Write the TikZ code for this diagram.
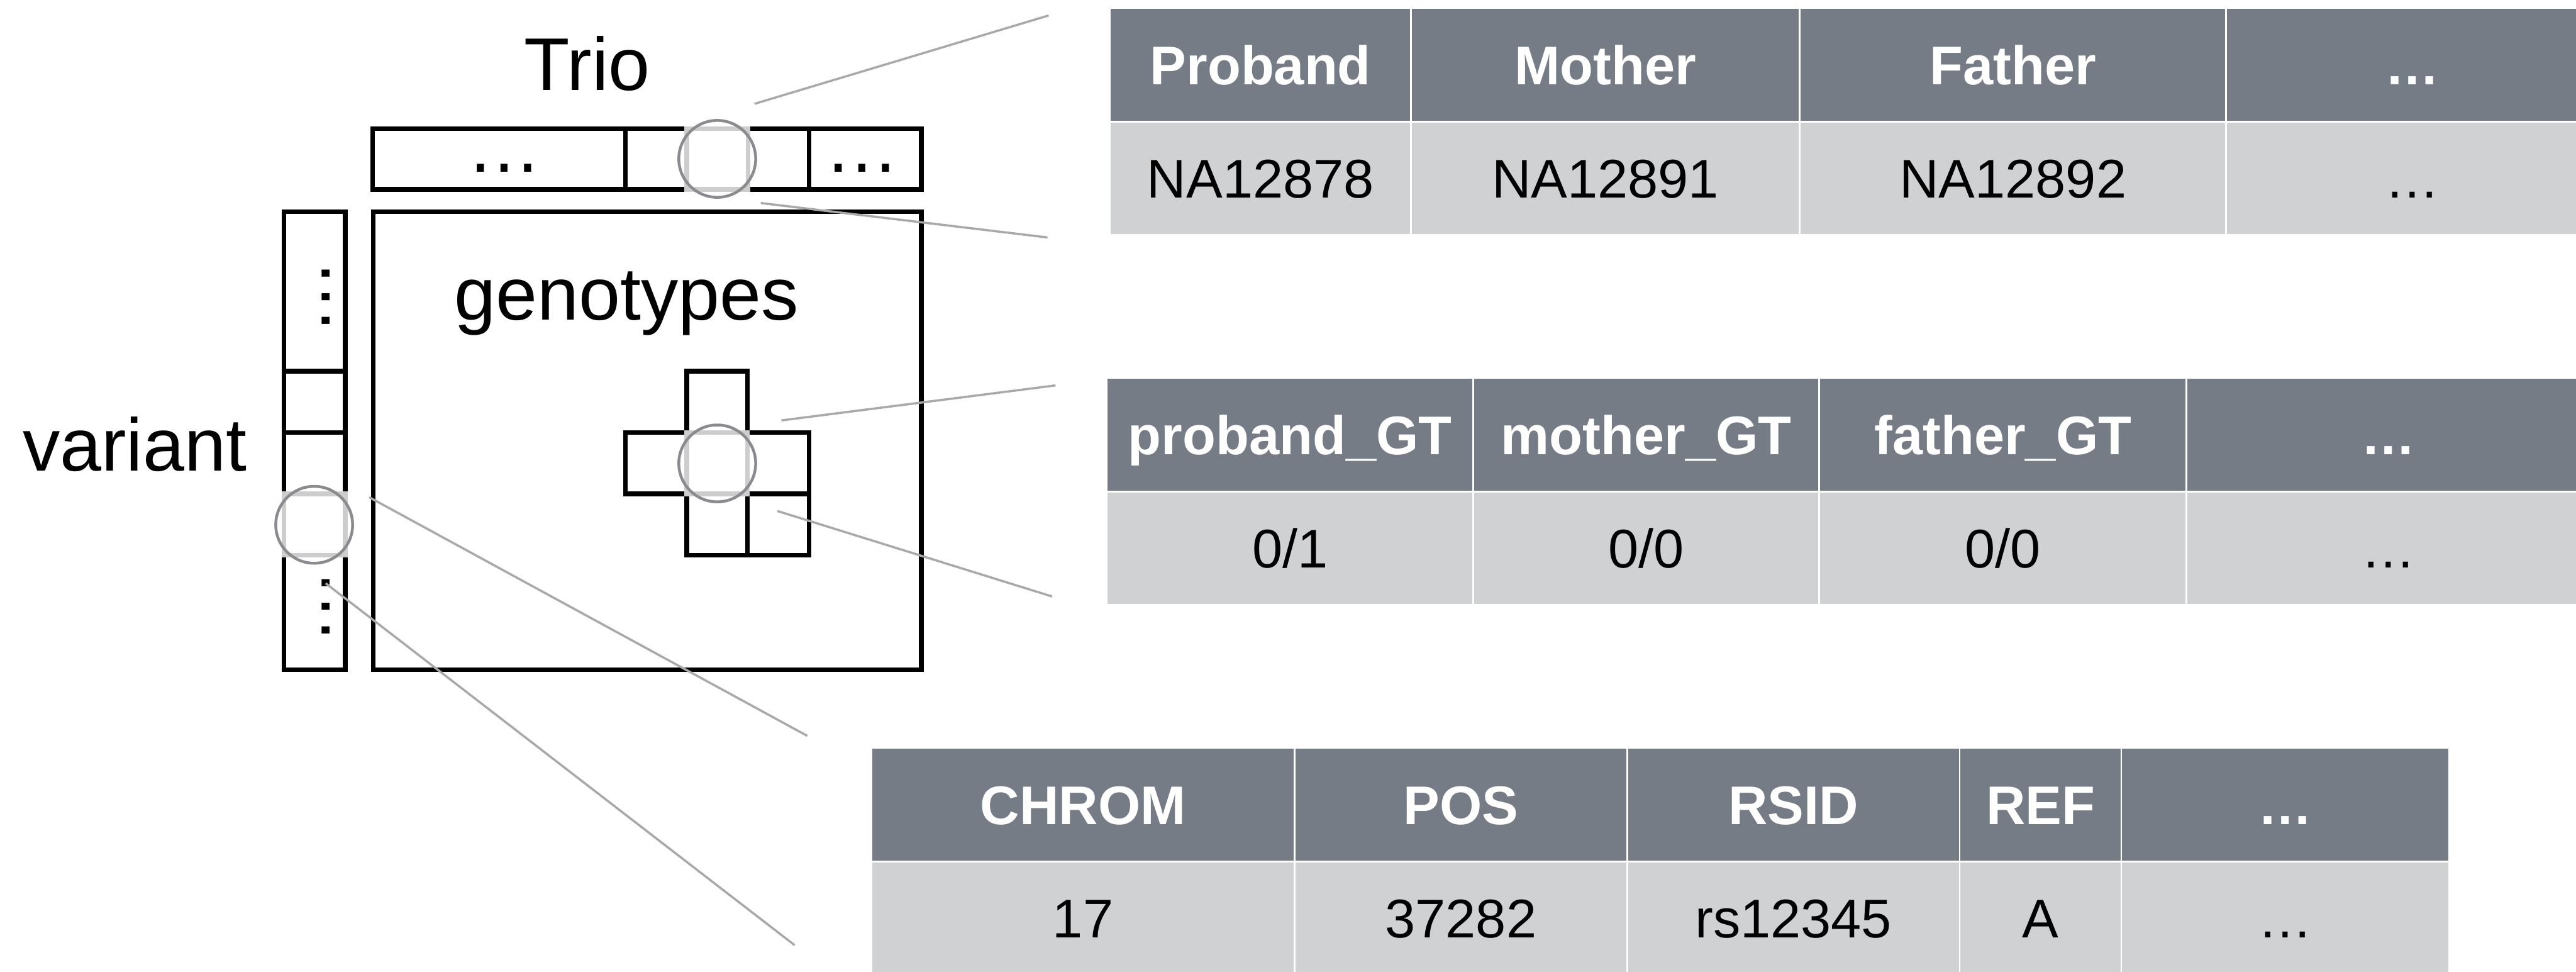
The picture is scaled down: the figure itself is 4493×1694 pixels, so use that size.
\documentclass[tikz,border=0pt]{standalone}
\usepackage{fontspec}
\setmainfont{Liberation Sans}
\usetikzlibrary{positioning}
\definecolor{hdgrey}{RGB}{118,124,134}
\definecolor{rwgrey}{RGB}{208,209,211}
\definecolor{ringgrey}{RGB}{137,139,143}
\definecolor{litegrey}{RGB}{205,205,205}
\definecolor{leadgrey}{RGB}{168,170,169}
\tikzset{
  blk/.style={draw=black,line width=2.3pt},
  hilite/.style={draw=litegrey,line width=2.3pt},
  ring/.style={circle,draw=ringgrey,line width=1.4pt,minimum size=1.34cm,inner sep=0pt},
  lead/.style={draw=leadgrey,line width=1.1pt},
  hd/.style={fill=hdgrey,draw=white,line width=0.9pt,text=white,font=\fontsize{27}{32}\selectfont\bfseries,minimum height=1.98cm,inner sep=0pt,text height=19.4pt,text depth=0pt},
  rw/.style={fill=rwgrey,draw=white,line width=0.9pt,text=black,font=\fontsize{27}{32}\selectfont,minimum height=1.98cm,inner sep=0pt,text height=19.4pt,text depth=0pt},
  lbl/.style={font=\fontsize{37}{44}\selectfont,anchor=base,inner sep=0pt},
}

\begin{document}
\begin{tikzpicture}[x=0.01cm,y=-0.01cm]
 \useasboundingbox (0,0) rectangle (4493,1694);
 \clip (0,0) rectangle (4493,1694);
 % sample table
 \foreach \a/\b/\h/\v [count=\i] in {1936/2461/Proband/NA12878,2461/3139/Mother/NA12891,3139/3883/Father/NA12892,3883/4531/…/…}{
   \pgfmathsetmacro{\w}{(\b-\a)/100}
   \node[hd,minimum width=\w cm] (sh\i) at ({(\a+\b)/2},113) {\h};
   \node[rw,minimum width=\w cm] (sr\i) at ({(\a+\b)/2},311) {\v};
 }
 % genotype table
 \foreach \a/\b/\h/\v [count=\i] in {1930/2570/proband\_GT/0\slash 1,2570/3173/mother\_GT/0\slash 0,3173/3814/father\_GT/0\slash 0,3814/4518/…/…}{
   \pgfmathsetmacro{\w}{(\b-\a)/100}
   \node[hd,minimum width=\w cm] (gh\i) at ({(\a+\b)/2},758) {\h};
   \node[rw,minimum width=\w cm] (gr\i) at ({(\a+\b)/2},956) {\v};
 }
 % variant table
 \foreach \a/\b/\h/\v [count=\i] in {1520/2258/CHROM/17,2258/2838/POS/37282,2838/3418/RSID/rs12345,3418/3700/REF/A,3700/4272/…/…}{
   \pgfmathsetmacro{\w}{(\b-\a)/100}
   \node[hd,minimum width=\w cm] (vh\i) at ({(\a+\b)/2},1403) {\h};
   \node[rw,minimum width=\w cm] (vr\i) at ({(\a+\b)/2},1601) {\v};
 }

 \node[lbl] (trio) at (1024,157) {Trio};
 \node[lbl] (geno) at (1093,558) {genotypes};
 \node[lbl] (var) at (235,821) {variant};

 % sample bar
 \draw[blk] (650,224) rectangle (1607,330);
 \foreach \x in {1091,1198,1305,1411}
   \draw[blk] (\x,224) -- (\x,330);
 \node[lbl] at (879,300) {…};
 \node[lbl] at (1504,300) {…};
 % variant bar
 \draw[blk] (495,369) rectangle (602,1168);
 \foreach \y in {647,754,861,968}
   \draw[blk] (495,\y) -- (602,\y);
 \node[lbl,rotate=90] at (575,518) {…};
 \node[lbl,rotate=90] at (575,1058) {…};
 % genotype matrix
 \draw[blk] (651,369) rectangle (1607,1168);
 \draw[blk] (1198,647) rectangle (1304,968);
 \draw[blk] (1091,754) rectangle (1411,861);
 \draw[blk] (1304,861) rectangle (1411,968);

 \draw[hilite] (1198,224) rectangle (1305,330);
 \draw[hilite] (495,861) rectangle (602,968);
 \draw[hilite] (1198,754) rectangle (1304,861);

 \node[ring] (rs) at (1251,277) {};
 \node[ring] (rg) at (1251,808) {};
 \node[ring] (rv) at (548,915) {};

 \coordinate (s1) at (1316,181);  \coordinate (s2) at (1829,27);
 \coordinate (s3) at (1327,354);  \coordinate (s4) at (1827,414);
 \coordinate (g1) at (1363,733);  \coordinate (g2) at (1841,672);
 \coordinate (g3) at (1356,891);  \coordinate (g4) at (1835,1040);
 \coordinate (v1) at (644,867);   \coordinate (v2) at (1408,1283);
 \coordinate (v3) at (568,1017);  \coordinate (v4) at (1386,1648);
 \foreach \p/\q in {s1/s2,s3/s4,g1/g2,g3/g4,v1/v2,v3/v4}
   \draw[lead] (\p) -- (\q);
\end{tikzpicture}
\end{document}
